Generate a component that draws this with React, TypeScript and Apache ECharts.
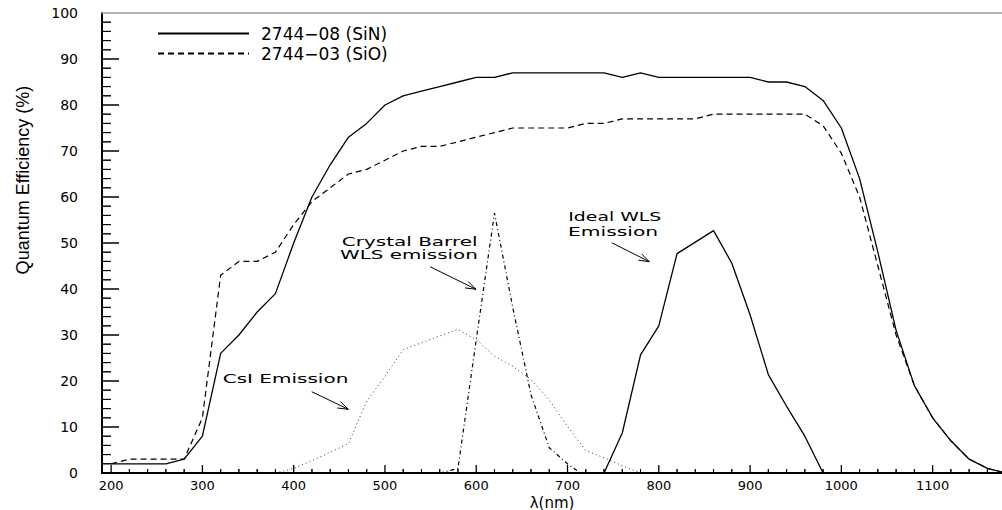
import React, { useEffect, useRef } from "react";
import * as echarts from "echarts";

// ---- data ----
const wavelengths = [
  200, 220, 240, 260, 280, 300, 320, 340, 360, 380, 400, 420, 440, 460, 480, 500,
  520, 540, 560, 580, 600, 620, 640, 660, 680, 700, 720, 740, 760, 780, 800, 820,
  840, 860, 880, 900, 920, 940, 960, 980, 1000, 1020, 1040, 1060, 1080, 1100, 1120,
  1140, 1160, 1180,
];
const qeSiN = [
  2, 2, 2, 2, 3, 8, 26, 30, 35, 39, 50, 60, 67, 73, 76, 80,
  82, 83, 84, 85, 86, 86, 87, 87, 87, 87, 87, 87, 86, 87, 86, 86,
  86, 86, 86, 86, 85, 85, 84, 81, 75, 64, 48, 31, 19, 12, 7,
  3, 1, 0,
];
const qeSiO = [
  2, 3, 3, 3, 3, 12, 43, 46, 46, 48, 54, 59, 62, 65, 66, 68,
  70, 71, 71, 72, 73, 74, 75, 75, 75, 75, 76, 76, 77, 77, 77, 77,
  77, 78, 78, 78, 78, 78, 78, 75.5, 69.5, 60, 45, 30, 19, 12, 7,
  3, 1, 0,
];
const csiWl = [380, 400, 420, 440, 460, 480, 500, 520, 540, 560, 580, 600, 620, 640, 660, 680, 700, 720, 740, 760, 780];
const csiEmission = [0, 1, 2.7, 4.5, 6.4, 15.6, 21, 26.8, 28.3, 29.8, 31.2, 29, 25.4, 23.2, 20.3, 15.9, 10.1, 4.9, 3.3, 1.6, 0];
const cbWl = [560, 580, 600, 620, 640, 660, 680, 700, 714];
const cbEmission = [0, 1, 29, 56.5, 36, 17, 5.5, 2, 0];
const idealWl = [740, 760, 780, 800, 820, 840, 860, 880, 900, 920, 940, 960, 980];
const idealEmission = [0, 8.7, 25.7, 32, 47.7, 50.2, 52.7, 45.6, 34.4, 21.4, 14.5, 8, 0];

// axis ranges and tick positions
const xMin = 190;
const xMax = 1176;
const yMin = 0;
const yMax = 100;
const xMajorStep = 100;
const xMajorTicks = [200, 300, 400, 500, 600, 700, 800, 900, 1000, 1100];
const xMinorTicks = [
  220, 240, 260, 280, 320, 340, 360, 380, 420, 440, 460, 480, 520, 540, 560, 580,
  620, 640, 660, 680, 720, 740, 760, 780, 820, 840, 860, 880, 920, 940, 960, 980,
  1020, 1040, 1060, 1080, 1120, 1140, 1160,
];
const yMajorStep = 10;
const yMajorTicks = [10, 20, 30, 40, 50, 60, 70, 80, 90];
const yMinorTicks = [
  2, 4, 6, 8, 12, 14, 16, 18, 22, 24, 26, 28, 32, 34, 36, 38, 42, 44, 46, 48,
  52, 54, 56, 58, 62, 64, 66, 68, 72, 74, 76, 78, 82, 84, 86, 88, 92, 94, 96, 98,
];
const legendNames = ["2744−08 (SiN)", "2744−03 (SiO)"];
const xName = "λ(nm)";
const yName = "Quantum Efficiency (%)";

// plot area (pixels)
const GRID_LEFT = 102;
const GRID_TOP = 13;
const GRID_W = 900;
const GRID_H = 460;
const xUnitsPerPx = (xMax - xMin) / GRID_W;
const yUnitsPerPx = (yMax - yMin) / GRID_H;

function pairs(xs: number[], ys: number[]) {
  return xs.map((x, i) => [x, ys[i]]);
}

// inward tick marks as zig-zag paths running along the axis line
function xTickPath(values: number[], lenPx: number) {
  const h = lenPx * yUnitsPerPx;
  const out: number[][] = [];
  values.forEach((v) => {
    out.push([v, yMin], [v, yMin + h], [v, yMin]);
  });
  return out;
}
function yTickPath(values: number[], lenPx: number) {
  const w = lenPx * xUnitsPerPx;
  const out: number[][] = [];
  values.forEach((v) => {
    out.push([xMin, v], [xMin + w, v], [xMin, v]);
  });
  return out;
}
function tickSeries(data: number[][], width: number) {
  return {
    type: "line",
    data,
    symbol: "none",
    clip: false,
    silent: true,
    z: 3,
    color: "#000",
    lineStyle: { color: "#000", width, type: "solid" },
    tooltip: { show: false },
  };
}

const FONT = "DejaVu Sans, Verdana, sans-serif";

function arrow(x1: number, y1: number, x2: number, y2: number) {
  const ang = Math.atan2(y2 - y1, x2 - x1);
  const L = 11;
  const a = 0.33;
  const p1 = [x2 - L * Math.cos(ang - a), y2 - L * Math.sin(ang - a)];
  const p2 = [x2 - L * Math.cos(ang + a), y2 - L * Math.sin(ang + a)];
  return [
    { type: "line", shape: { x1, y1, x2, y2 }, style: { stroke: "#000", lineWidth: 1 }, silent: true },
    {
      type: "polyline",
      shape: { points: [p1, [x2, y2], p2] },
      style: { stroke: "#000", fill: null, lineWidth: 1 },
      silent: true,
    },
  ];
}

function label(text: string, x: number, y: number, scaleX: number) {
  return {
    type: "text",
    x,
    y,
    scaleX,
    silent: true,
    style: {
      text,
      fontSize: 13,
      fontFamily: FONT,
      fill: "#000",
      align: "left",
      verticalAlign: "middle",
    },
  };
}

const noSplit = { show: false };

export default function App() {
  const ref = useRef<HTMLDivElement>(null);
  useEffect(() => {
    if (!ref.current) return;
    const chart = echarts.init(ref.current, null, { renderer: "svg" });
    chart.setOption({
      animation: false,
      backgroundColor: "#fff",
      grid: {
        left: GRID_LEFT,
        top: GRID_TOP,
        width: GRID_W,
        height: GRID_H,
        outerBoundsMode: "none",
      },
      legend: {
        data: legendNames,
        orient: "vertical",
        left: 157,
        top: 25,
        padding: 0,
        itemWidth: 91,
        itemHeight: 14,
        itemGap: 3,
        itemStyle: { opacity: 0 },
        textStyle: { fontSize: 17, fontFamily: FONT, color: "#000", padding: [0, 0, 0, 7] },
        selectedMode: false,
      },
      xAxis: [
        {
          type: "value",
          gridIndex: 0,
          min: xMin,
          max: xMax,
          minInterval: xMajorStep,
          maxInterval: xMajorStep,
          position: "bottom",
          splitLine: noSplit,
          axisLine: { show: true, onZero: false, lineStyle: { color: "#000", width: 2 } },
          axisTick: { show: false },
          axisLabel: {
            show: true,
            showMinLabel: false,
            showMaxLabel: false,
            formatter: (v: number) => String(v),
            fontSize: 13,
            fontFamily: FONT,
            color: "#000",
            margin: 6,
          },
          name: xName,
          nameLocation: "middle",
          nameGap: 22,
          nameMoveOverlap: false,
          nameTextStyle: { fontSize: 15, fontFamily: FONT, color: "#000" },
        },
        {
          type: "value",
          gridIndex: 0,
          min: xMin,
          max: xMax,
          position: "top",
          splitLine: noSplit,
          axisLine: { show: true, onZero: false, lineStyle: { color: "#999", width: 1.5 } },
          axisTick: { show: false },
          axisLabel: { show: false },
        },
      ],
      yAxis: {
        type: "value",
        gridIndex: 0,
        min: yMin,
        max: yMax,
        interval: yMajorStep,
        position: "left",
        splitLine: noSplit,
        axisLine: { show: true, onZero: false, lineStyle: { color: "#000", width: 2 } },
        axisTick: { show: false },
        axisLabel: { fontSize: 14, fontFamily: FONT, color: "#000", margin: 24 },
        name: yName,
        nameLocation: "middle",
        nameGap: 70,
        nameRotate: 90,
        nameTextStyle: {
          fontSize: 18,
          fontFamily: "Liberation Sans Narrow, Liberation Sans, sans-serif",
          color: "#000",
          padding: [0, 0, 0, 126],
        },
      },
      series: [
        {
          name: legendNames[0],
          type: "line",
          data: pairs(wavelengths, qeSiN),
          symbol: "none",
          clip: true,
          color: "#000",
          lineStyle: { color: "#000", width: 1.3, type: "solid" },
        },
        {
          name: legendNames[1],
          type: "line",
          data: pairs(wavelengths, qeSiO),
          symbol: "none",
          clip: true,
          color: "#000",
          lineStyle: { color: "#000", width: 1.2, type: [6, 4] },
        },
        {
          name: "CsI Emission",
          type: "line",
          data: pairs(csiWl, csiEmission),
          symbol: "none",
          clip: true,
          color: "#333",
          lineStyle: { color: "#333", width: 1, type: [1, 3] },
        },
        {
          name: "Crystal Barrel WLS emission",
          type: "line",
          data: pairs(cbWl, cbEmission),
          symbol: "none",
          clip: true,
          color: "#000",
          lineStyle: { color: "#000", width: 1.2, type: [4, 3, 1, 3] },
        },
        {
          name: "Ideal WLS Emission",
          type: "line",
          data: pairs(idealWl, idealEmission),
          symbol: "none",
          clip: true,
          color: "#000",
          lineStyle: { color: "#000", width: 1.3, type: "solid" },
        },
        tickSeries(xTickPath(xMajorTicks, 8), 1.3),
        tickSeries(xTickPath(xMinorTicks, 4), 1),
        tickSeries(yTickPath(yMajorTicks, 17), 1.3),
        tickSeries(yTickPath(yMinorTicks, 9), 1),
      ],
      graphic: [
        label("CsI Emission", 222.7, 378.7, 1.54),
        ...arrow(311.7, 391.7, 348.3, 409.3),
        label("Crystal Barrel", 341.7, 241, 1.54),
        label("WLS emission", 340, 254.5, 1.53),
        ...arrow(430, 266.7, 476, 289.3),
        label("Ideal WLS", 568.3, 216.7, 1.45),
        label("Emission", 568, 231, 1.56),
        ...arrow(611.7, 242.7, 649.3, 261.7),
      ],
    });
    return () => chart.dispose();
  }, []);
  return <div ref={ref} style={{ position: "absolute", left: 0, top: 0, width: 1002, height: 510 }} />;
}
